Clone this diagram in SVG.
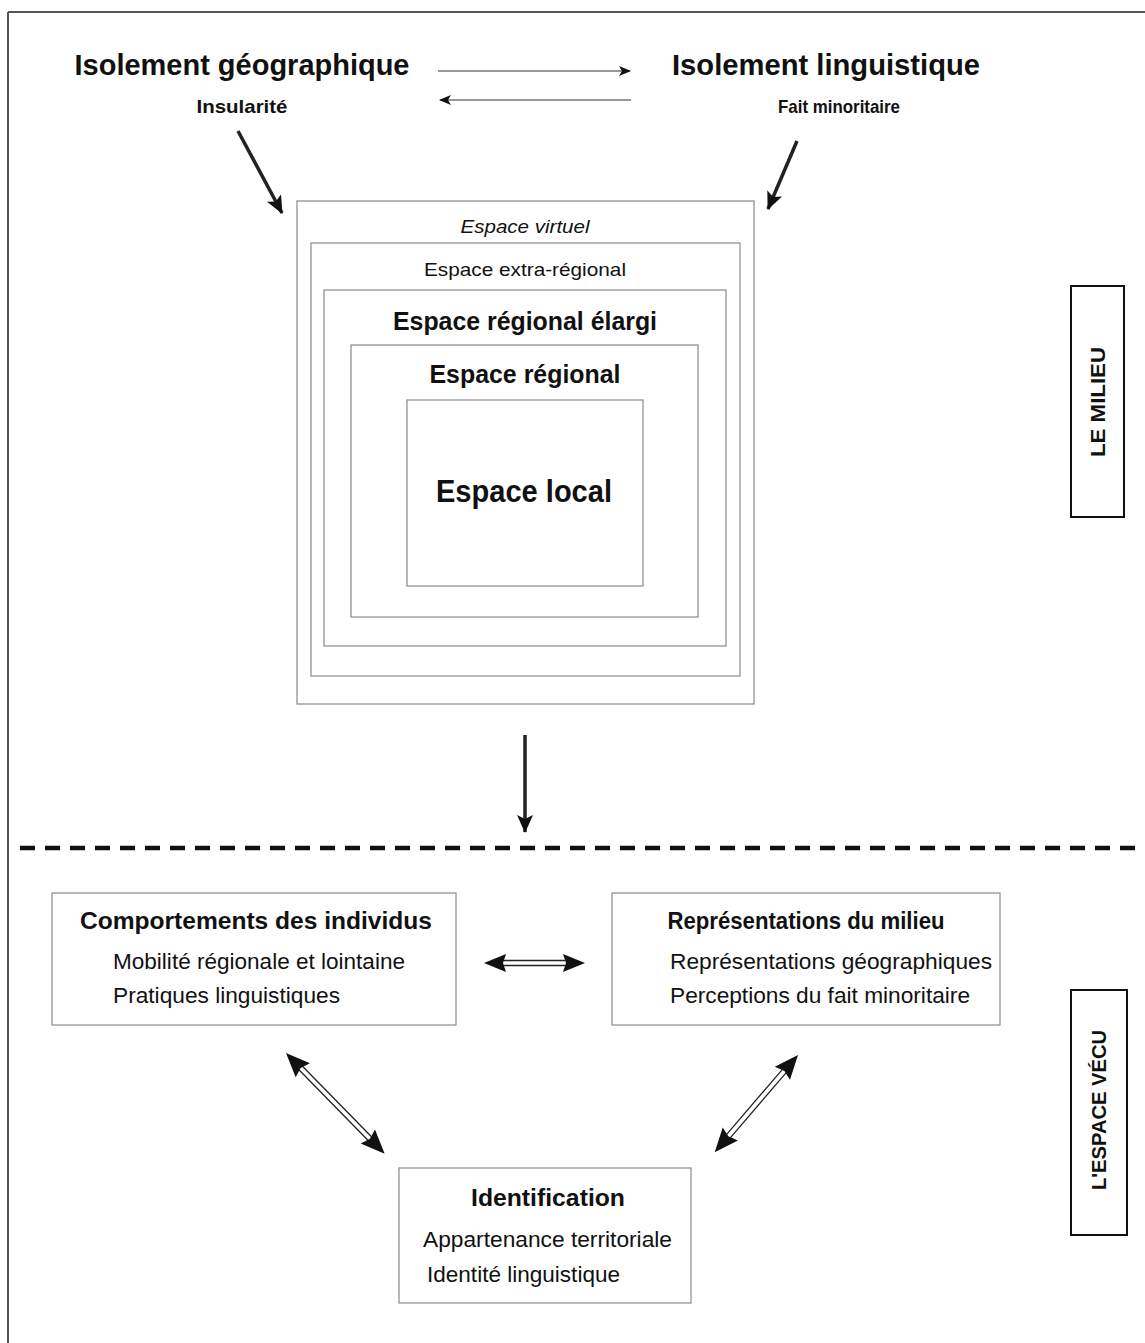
<svg xmlns="http://www.w3.org/2000/svg" width="1145" height="1343" viewBox="0 0 1145 1343">
<defs>
<style>
.box{fill:none;stroke:#8a8a8a;stroke-width:1.2}
.side{fill:none;stroke:#111;stroke-width:2}
text{font-family:"Liberation Sans",Arial,sans-serif;fill:#111}
.b{font-weight:bold}
.c{text-anchor:middle}
.thin{stroke:#333;stroke-width:1.2;fill:none}
.thick{stroke:#222;stroke-width:3.5;fill:none}
.dh{fill:#111}
</style>
<marker id="ah" viewBox="0 0 12 10" refX="11" refY="5" markerWidth="12" markerHeight="10" markerUnits="userSpaceOnUse" orient="auto">
<path d="M0,0 L12,5 L0,10 L3,5 Z" fill="#111"/>
</marker>
<marker id="ahb" viewBox="0 0 18 16" refX="17" refY="8" markerWidth="18" markerHeight="16" markerUnits="userSpaceOnUse" orient="auto">
<path d="M0,0 L18,8 L0,16 L4,8 Z" fill="#111"/>
</marker>
</defs>
<rect width="1145" height="1343" fill="#fff"/>
<g id="frame">
<path d="M8,12 H1145 M8,12 V1343" stroke="#555" stroke-width="2" fill="none"/>
</g>
<g id="isolement-geo">
<text x="242" y="75" class="b c" font-size="30" textLength="335" lengthAdjust="spacingAndGlyphs">Isolement géographique</text>
<text x="242" y="113" class="b c" font-size="19" textLength="91" lengthAdjust="spacingAndGlyphs">Insularité</text>
</g>
<g id="isolement-ling">
<text x="826" y="75" class="b c" font-size="30" textLength="308" lengthAdjust="spacingAndGlyphs">Isolement linguistique</text>
<text x="839" y="113" class="b c" font-size="19" textLength="122" lengthAdjust="spacingAndGlyphs">Fait minoritaire</text>
</g>
<g id="espaces">
<rect class="box" x="297" y="201" width="457" height="503"/>
<rect class="box" x="311" y="243" width="429" height="433"/>
<rect class="box" x="324" y="290" width="402" height="356"/>
<rect class="box" x="351" y="345" width="347" height="272"/>
<rect class="box" x="407" y="400" width="236" height="186"/>
<text x="525" y="233" class="c" font-size="19" font-style="italic" textLength="129" lengthAdjust="spacingAndGlyphs">Espace virtuel</text>
<text x="525" y="276" class="c" font-size="19" textLength="202" lengthAdjust="spacingAndGlyphs">Espace extra-régional</text>
<text x="525" y="330" class="b c" font-size="25" textLength="264" lengthAdjust="spacingAndGlyphs">Espace régional élargi</text>
<text x="525" y="383" class="b c" font-size="25" textLength="191" lengthAdjust="spacingAndGlyphs">Espace régional</text>
<text x="524" y="502" class="b c" font-size="32" textLength="176" lengthAdjust="spacingAndGlyphs">Espace local</text>
</g>
<g id="le-milieu">
<rect class="side" x="1071" y="286" width="53" height="231"/>
<text transform="translate(1105,402) rotate(-90)" class="b c" font-size="21" textLength="110" lengthAdjust="spacingAndGlyphs">LE MILIEU</text>
</g>
<g id="comportements">
<rect class="box" x="52" y="893" width="404" height="132"/>
<text x="256" y="929" class="b c" font-size="24" textLength="352" lengthAdjust="spacingAndGlyphs">Comportements des individus</text>
<text x="113" y="969" font-size="22" textLength="292" lengthAdjust="spacingAndGlyphs">Mobilité régionale et lointaine</text>
<text x="113" y="1003" font-size="22" textLength="227" lengthAdjust="spacingAndGlyphs">Pratiques linguistiques</text>
</g>
<g id="representations">
<rect class="box" x="612" y="893" width="388" height="132"/>
<text x="806" y="929" class="b c" font-size="24" textLength="277" lengthAdjust="spacingAndGlyphs">Représentations du milieu</text>
<text x="670" y="969" font-size="22" textLength="322" lengthAdjust="spacingAndGlyphs">Représentations géographiques</text>
<text x="670" y="1003" font-size="22" textLength="300" lengthAdjust="spacingAndGlyphs">Perceptions du fait minoritaire</text>
</g>
<g id="identification">
<rect class="box" x="399" y="1168" width="292" height="135"/>
<text x="548" y="1206" class="b c" font-size="24" textLength="154" lengthAdjust="spacingAndGlyphs">Identification</text>
<text x="423" y="1247" font-size="22" textLength="249" lengthAdjust="spacingAndGlyphs">Appartenance territoriale</text>
<text x="427" y="1282" font-size="22" textLength="193" lengthAdjust="spacingAndGlyphs">Identité linguistique</text>
</g>
<g id="espace-vecu">
<rect class="side" x="1071" y="990" width="56" height="245"/>
<text transform="translate(1106,1110) rotate(-90)" class="b c" font-size="21" textLength="160" lengthAdjust="spacingAndGlyphs">L'ESPACE VÉCU</text>
</g>
<g id="connectors">
<line class="thin" x1="438" y1="71" x2="630" y2="71" marker-end="url(#ah)"/>
<line class="thin" x1="631" y1="100" x2="440" y2="100" marker-end="url(#ah)"/>
<line class="thick" x1="238" y1="131" x2="282" y2="213" marker-end="url(#ahb)"/>
<line class="thick" x1="797" y1="141" x2="768" y2="209" marker-end="url(#ahb)"/>
<line class="thick" stroke-width="3" x1="525" y1="735" x2="525" y2="832" marker-end="url(#ahb)"/>
<path d="M20,848 H1145" stroke="#111" stroke-width="4.5" stroke-dasharray="15,10" fill="none"/>
<g transform="translate(484,963)">
<path class="dh" d="M0,0 L22,-9 L19,0 L22,9 Z M101,0 L79,-9 L82,0 L79,9 Z"/>
<path d="M19,-2.5 H82 M19,2.5 H82" stroke="#222" stroke-width="1.3" fill="none"/>
</g>
<g transform="translate(286,1053) rotate(45.6)">
<path class="dh" d="M0,0 L24,-10 L21,0 L24,10 Z M141,0 L117,-10 L120,0 L117,10 Z"/>
<path d="M21,-2.5 H120 M21,2.5 H120" stroke="#222" stroke-width="1.3" fill="none"/>
</g>
<g transform="translate(798,1055) rotate(130.6)">
<path class="dh" d="M0,0 L24,-10 L21,0 L24,10 Z M128,0 L104,-10 L107,0 L104,10 Z"/>
<path d="M21,-2.5 H107 M21,2.5 H107" stroke="#222" stroke-width="1.3" fill="none"/>
</g>
</g>
</svg>
